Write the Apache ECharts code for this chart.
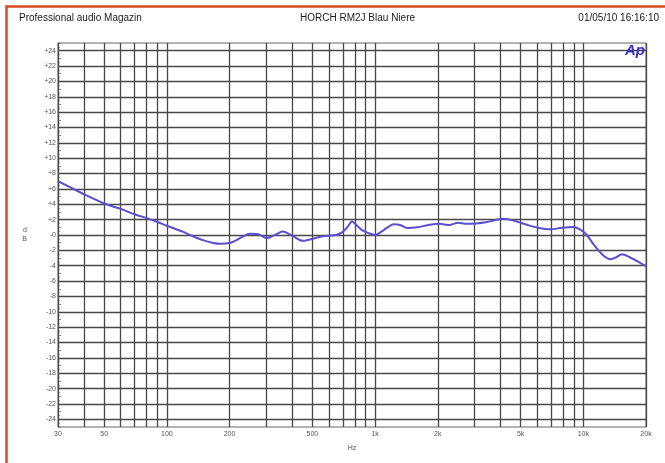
<!DOCTYPE html>
<html>
<head>
<meta charset="utf-8">
<script src="https://cdn.jsdelivr.net/npm/echarts@6/dist/echarts.min.js"></script>
<style>
html,body{margin:0;padding:0;background:#fff;}
#chart{width:665px;height:463px;}
</style>
</head>
<body>
<div id="chart"></div>
<script>
// ---- data ----
const freqHz = [30,35,40,50,60,70,80,90,100,120,134,150,165,180,200,215,230,250,275,300,330,360,395,450,500,560,650,700,740,775,820,870,930,1000,1100,1230,1320,1430,1600,1800,2040,2270,2500,2750,3050,3400,3780,4130,4500,5000,5400,6050,7000,7900,8900,9600,10400,11250,12400,13500,14400,15300,16700,18400,19800,20000];
const levelDb = [7.0,6.1,5.3,4.1,3.4,2.7,2.2,1.7,1.2,0.4,-0.2,-0.7,-1.0,-1.15,-1.05,-0.7,-0.25,0.15,0.1,-0.4,0.0,0.45,0.0,-0.75,-0.5,-0.15,0.0,0.4,1.1,1.75,1.2,0.6,0.25,0.0,0.65,1.4,1.3,0.9,1.0,1.3,1.45,1.3,1.6,1.45,1.5,1.65,1.95,2.1,1.95,1.6,1.3,0.95,0.75,0.95,1.05,0.75,0.0,-1.3,-2.6,-3.15,-2.9,-2.5,-2.9,-3.5,-4.0,-4.1];

const xLabelFreqs = [30,50,100,200,500,1000,2000,5000,10000,20000];
const xTickLabels = ['30','50','100','200','500','1k','2k','5k','10k','20k'];
const xGridFreqs = [40,60,70,80,90,300,400,600,700,800,900,3000,4000,6000,7000,8000,9000];

const yLabelValues = [-24,-22,-20,-18,-16,-14,-12,-10,-8,-6,-4,-2,0,2,4,6,8,10,12,14,16,18,20,22,24];
const yTickLabels = ['-24','-22','-20','-18','-16','-14','-12','-10','-8','-6','-4','-2','-0','+2','+4','+6','+8','+10','+12','+14','+16','+18','+20','+22','+24'];

const titleLeft = 'Professional audio Magazin';
const titleMid = 'HORCH RM2J Blau Niere';
const titleRight = '01/05/10 16:16:10';

// ---- chart ----
const gridColor = '#484848';
const labelColor = '#555';
const font = 'Liberation Sans, Arial, sans-serif';

const vLines = [];
xLabelFreqs.forEach((f, i) => {
  vLines.push({xAxis: f, label: {show: true, formatter: xTickLabels[i]}});
});
xGridFreqs.forEach(f => vLines.push({xAxis: f, label: {show: false}}));
const hLines = yLabelValues.map(v => ({yAxis: v, label: {show: false}}));

const titleStyle = {fontSize: 10, fontWeight: 'normal', color: '#1a1a1a', fontFamily: font};

const chart = echarts.init(document.getElementById('chart'), null, {renderer: 'canvas'});
chart.setOption({
  animation: false,
  backgroundColor: '#fff',
  title: [
    {text: titleLeft, left: 19, top: 13, padding: 0, textStyle: titleStyle},
    {text: titleMid, left: 300, top: 13, padding: 0, textStyle: titleStyle},
    {text: titleRight, right: 6, top: 13, padding: 0, textStyle: titleStyle}
  ],
  graphic: [
    {type: 'rect', left: 4, top: 4, shape: {width: 700, height: 500}, style: {fill: 'none', stroke: '#d64a1e', lineWidth: 2.5}, silent: true, z: 100},
    {type: 'text', right: 20, top: 43, style: {text: 'Ap', fill: '#3b2fc4', font: 'italic bold 15px ' + font}, z: 100}
  ],
  grid: {left: 58, right: 19, top: 43, bottom: 36, show: true, borderColor: '#666', borderWidth: 1, backgroundColor: '#fff'},
  xAxis: {
    type: 'log', logBase: 10, min: 30, max: 20000,
    name: 'Hz', nameLocation: 'middle', nameGap: 18,
    nameTextStyle: {fontSize: 7, color: labelColor, fontFamily: font},
    axisLine: {show: false}, axisTick: {show: false}, axisLabel: {show: false},
    splitLine: {show: false}, minorSplitLine: {show: false}
  },
  yAxis: {
    type: 'value', min: -25, max: 25, interval: 1,
    name: 'd\nB', nameLocation: 'middle', nameGap: 31, nameRotate: 0,
    nameTextStyle: {fontSize: 7, color: labelColor, fontFamily: font, lineHeight: 9},
    axisLine: {show: true, lineStyle: {color: '#666', width: 1}},
    axisTick: {show: true, inside: true, length: 3, lineStyle: {color: '#777', width: 0.8}},
    minorTick: {show: true, splitNumber: 2, length: 2, lineStyle: {color: '#888', width: 0.8}},
    axisLabel: {
      margin: 2, fontSize: 7, color: labelColor, fontFamily: font,
      formatter: v => { const i = yLabelValues.indexOf(v); return i >= 0 ? yTickLabels[i] : ''; }
    },
    splitLine: {show: false}
  },
  series: [
    {
      type: 'line', name: 'grid-v', data: [], silent: true,
      markLine: {
        silent: true, symbol: ['none', 'none'], animation: false,
        lineStyle: {color: gridColor, width: 1.3, type: 'solid'},
        label: {position: 'start', distance: 4, fontSize: 7, color: labelColor, fontFamily: font},
        emphasis: {disabled: true},
        data: vLines
      }
    },
    {
      type: 'line', name: 'grid-h', data: [], silent: true,
      markLine: {
        silent: true, symbol: ['none', 'none'], animation: false,
        lineStyle: {color: gridColor, width: 1.3, type: 'solid'},
        emphasis: {disabled: true},
        data: hLines
      }
    },
    {
      type: 'line', name: 'response',
      data: freqHz.map((f, i) => [f, levelDb[i]]),
      showSymbol: false, smooth: 0.3,
      lineStyle: {color: '#5a4fd0', width: 2},
      z: 10
    }
  ]
});
</script>
</body>
</html>
